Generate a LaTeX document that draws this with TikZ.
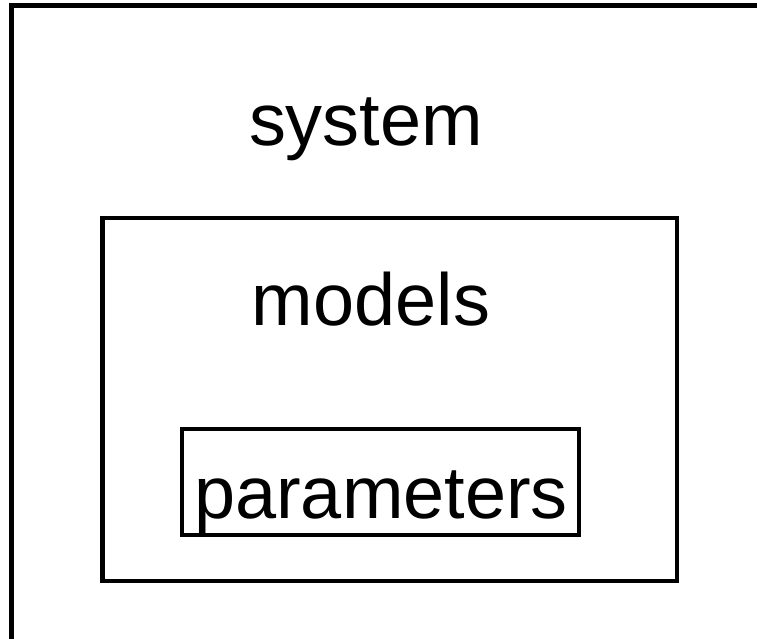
\documentclass[tikz,border=0pt]{standalone}
\usepackage{fontspec}
\setmainfont{Liberation Sans}
\usetikzlibrary{positioning}

\begin{document}
\begin{tikzpicture}[
    x=0.01cm, y=-0.01cm,
    box/.style={rectangle, draw, line width=1.3pt, inner sep=0pt},
    title/.style={font=\fontsize{21}{25}\selectfont, anchor=base, inner sep=0pt}
]
  \useasboundingbox (0,0) rectangle (757,639);
  \clip (0,0) rectangle (757,639);

  % Nested boxes
  \node[box, minimum width=8.88cm, minimum height=7.94cm] (system) at (456,403) {};
  \node[box, minimum width=5.74cm, minimum height=3.63cm] (models) at (389.9,399.5) {};
  \node[box, minimum width=3.97cm, minimum height=1.06cm] (params) at (380.4,482) {};

  % Labels
  \node[title] (systemlbl) at (366,145) {system};
  \node[title] (modelslbl) at (371,325) {models};
  \node[title] (paramslbl) at (381,518) {parameters};
\end{tikzpicture}
\end{document}
